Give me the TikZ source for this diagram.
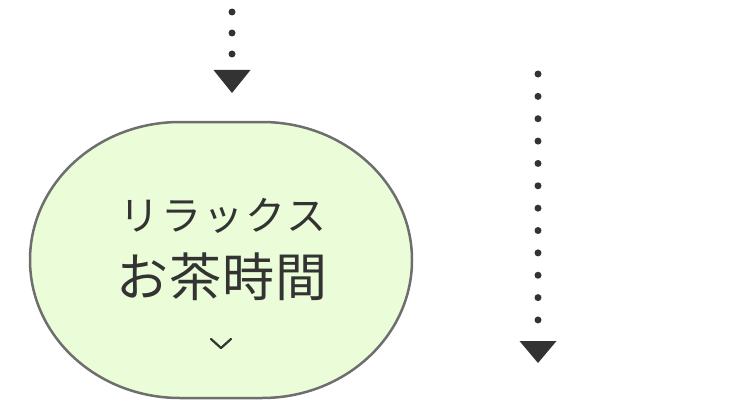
\documentclass[tikz,border=0pt]{standalone}
\usepackage{fontspec}
\usetikzlibrary{calc}
\newfontfamily\jpfont{Noto Sans CJK JP}
\definecolor{ink}{HTML}{333333}
\definecolor{boxfill}{HTML}{EBFDD8}
\definecolor{boxline}{HTML}{6E6E6E}
\tikzset{
  dotline/.style={ink, line width=7pt, line cap=round, dash pattern=on 0pt off #1},
  tri/.style={fill=ink, draw=none},
  lbl/.style={inner sep=0pt, text=ink}
}
\begin{document}
\begin{tikzpicture}[x=1pt,y=1pt]
\useasboundingbox (0,0) rectangle (750,400);
% rounded shape
\path[fill=boxfill, draw=boxline, line width=2.5pt]
  (180,278) -- (262,278) arc[start angle=90, end angle=-90, x radius=150, y radius=138]
  -- (180,2) arc[start angle=270, end angle=90, x radius=150, y radius=138] -- cycle;
\node[lbl, font=\jpfont\fontsize{40}{40}\selectfont\addfontfeature{LetterSpace=5}] (t1) at (223,184) {リラックス};
\node[lbl, font=\jpfont\fontsize{52}{52}\selectfont\addfontfeature{LetterSpace=2}] (t2) at (222,123) {お茶時間};
\coordinate (c) at (221,52);
\draw[ink, line width=2.2pt, line cap=round, line join=round] ($(c)+(-10,9)$) -- (c) -- ($(c)+(10,9)$);
% top arrow
\coordinate (a1) at (232,388);
\coordinate (a2) at (232,346);
\draw[dotline=21pt] (a1) -- (a2);
\coordinate (a3) at (232,330);
\fill[tri] ($(a3)+(-18.5,0)$) -- ($(a3)+(18.5,0)$) -- ($(a3)+(0,-23)$) -- cycle;
% right arrow
\coordinate (b1) at (538,326);
\coordinate (b2) at (538,80);
\draw[dotline=22.36pt] (b1) -- (b2);
\coordinate (b3) at (538,59);
\fill[tri] ($(b3)+(-18.5,0)$) -- ($(b3)+(18.5,0)$) -- ($(b3)+(0,-22)$) -- cycle;
\end{tikzpicture}
\end{document}
